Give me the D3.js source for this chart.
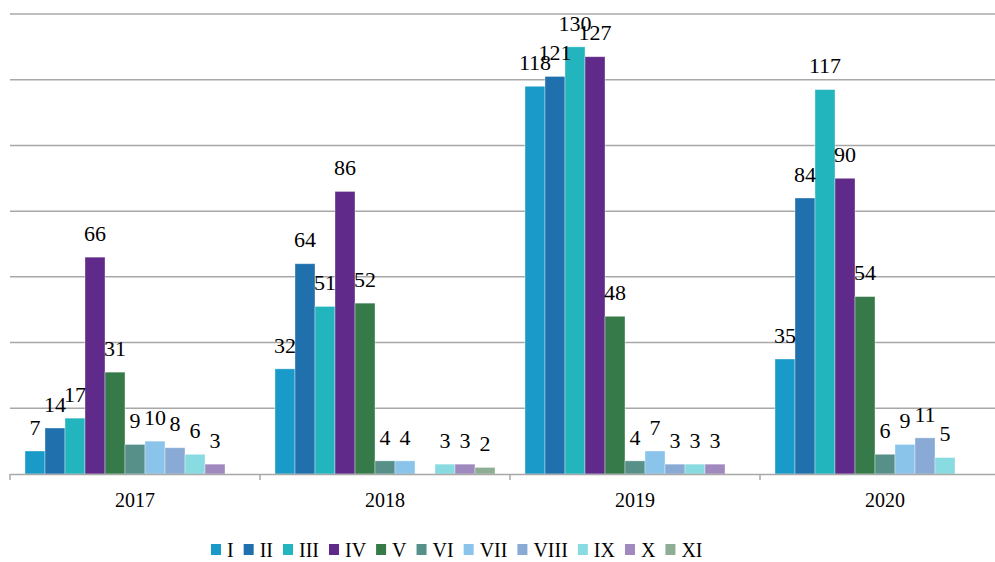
<!DOCTYPE html>
<meta charset="utf-8">
<script src="https://d3js.org/d3.v7.min.js"></script>
<style>
* { margin: 0; padding: 0; }
body { background: #fff; }
svg { display: block; }
svg text { font-family: 'Liberation Serif', 'Times New Roman', Times, 'DejaVu Serif', serif !important; }
</style>
<svg width="995" height="562"></svg>
<script>
const years = ["2017", "2018", "2019", "2020"]
const series = ["I", "II", "III", "IV", "V", "VI", "VII", "VIII", "IX", "X", "XI"]
const colors = ["#1a9ac9", "#2070ad", "#22b5bd", "#5f2a8a", "#367a4a", "#569089",
                "#8ac4ea", "#8aaad6", "#88dbe0", "#a089bf", "#8dae92"]
// null = no bar for that year
const values2017 = [7, 14, 17, 66, 31, 9, 10, 8, 6, 3, null]
const values2018 = [32, 64, 51, 86, 52, 4, 4, null, 3, 3, 2]
const values2019 = [118, 121, 130, 127, 48, 4, 7, 3, 3, 3, null]
const values2020 = [35, 84, 117, 90, 54, 6, 9, 11, 5, null, null]
const gridTicks = [0, 20, 40, 60, 80, 100, 120, 140]

const byYear = [values2017, values2018, values2019, values2020]
const svg = d3.select("svg")
const serifFont = "'Liberation Serif', 'Times New Roman', serif"

let x0 = d3.scaleBand().domain(years).range([10, 1010]).padding(0)
let x1 = d3.scaleBand().domain(series).range([0, x0.bandwidth()])
    .paddingInner(0).paddingOuter(0.75)
let y = d3.scaleLinear().domain([0, 140]).range([474, 14])

// gridlines
svg.append("g").selectAll("line")
    .data(gridTicks.slice(1))
    .join("line")
    .attr("x1", 10).attr("x2", 1010)
    .attr("y1", d => y(d)).attr("y2", d => y(d))
    .attr("stroke", "#a8a8a8").attr("stroke-width", 1.5)

// bars
let groups = svg.append("g").selectAll("g")
    .data(years.map((yr, i) => ({ year: yr, vals: byYear[i] })))
    .join("g")
    .attr("transform", d => "translate(" + x0(d.year) + ",0)")

let cells = d => d.vals.map((v, i) => ({ s: series[i], v: v, c: colors[i] })).filter(e => e.v !== null)

groups.selectAll("rect")
    .data(cells)
    .join("rect")
    .attr("x", d => x1(d.s))
    .attr("y", d => y(d.v))
    .attr("width", x1.bandwidth())
    .attr("height", d => y(0) - y(d.v))
    .attr("fill", d => d.c)
    .attr("stroke", "rgba(255,255,255,0.45)")
    .attr("stroke-width", 0.8)

groups.selectAll("text")
    .data(cells)
    .join("text")
    .attr("x", d => x1(d.s) + x1.bandwidth() / 2)
    .attr("y", d => y(d.v) - 24)
    .attr("dy", "0.35em")
    .attr("text-anchor", "middle")
    .attr("font-family", serifFont)
    .attr("font-size", "22px")
    .attr("fill", "#000")
    .text(d => d.v)

// category axis
let axis = svg.append("g").attr("transform", "translate(0," + y(0) + ")")
    .call(d3.axisBottom(x0).tickSize(0).tickFormat(d => d))
axis.attr("font-family", serifFont)
axis.select(".domain").attr("stroke", "#a8a8a8").attr("stroke-width", 1.5)
axis.selectAll("text").attr("font-size", "20px").attr("fill", "#000")
    .attr("y", 33).attr("dy", "0")
svg.append("g").selectAll("line")
    .data(years.concat(["end"]))
    .join("line")
    .attr("x1", (d, i) => 10 + i * x0.step()).attr("x2", (d, i) => 10 + i * x0.step())
    .attr("y1", y(0)).attr("y2", y(0) + 6)
    .attr("stroke", "#a8a8a8").attr("stroke-width", 1.5)

// legend
let legend = svg.append("g").attr("font-family", serifFont)
let lx = 211
series.forEach((s, i) => {
    legend.append("rect").attr("x", lx).attr("y", 544).attr("width", 10).attr("height", 11)
        .attr("fill", colors[i])
    let t = legend.append("text").attr("x", lx + 16).attr("y", 557)
        .attr("font-size", "20px").attr("fill", "#000").text(s)
    lx += 16 + t.node().getComputedTextLength() + 10
})
</script>
